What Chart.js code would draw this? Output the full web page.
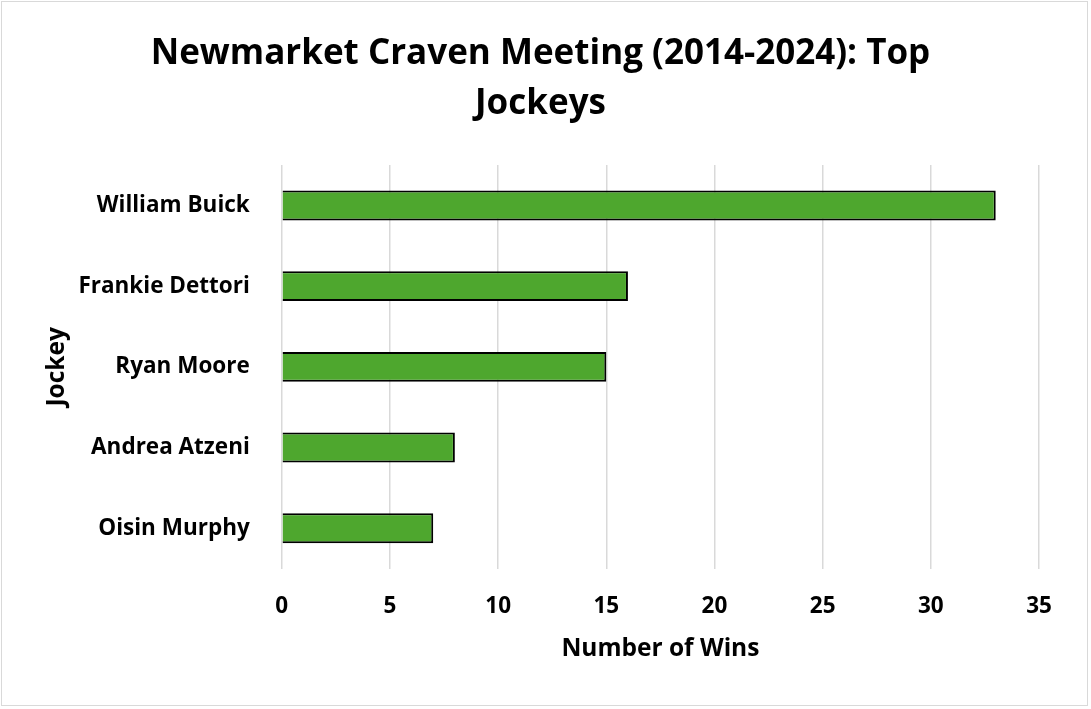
<!DOCTYPE html>
<html><head><meta charset="utf-8">
<script src="https://cdn.jsdelivr.net/npm/chart.js@4/dist/chart.umd.min.js"></script>
<style>
html,body{margin:0;padding:0;background:#fff;}
#wrap{position:absolute;left:1px;top:1px;width:1087px;height:705px;border:1px solid #d9d9d9;box-sizing:border-box;}
canvas{display:block;}
</style></head><body>
<div id="wrap"><canvas id="c"></canvas></div>
<script>
const jockeys = ["William Buick","Frankie Dettori","Ryan Moore","Andrea Atzeni","Oisin Murphy"];
const wins = [33,16,15,8,7];
const xTicks = [0,5,10,15,20,25,30,35];
const titleLines = ["Newmarket Craven Meeting (2014-2024): Top","Jockeys"];
const FONT = "'Open Sans', sans-serif";
function draw(){
new Chart(document.getElementById('c'), {
  type:'bar',
  data:{labels:jockeys,datasets:[{data:wins,backgroundColor:'#4ea72e',borderColor:'#000',borderWidth:2,categoryPercentage:1,barPercentage:0.37}]},
  options:{
    indexAxis:'y',responsive:true,maintainAspectRatio:false,animation:false,
    layout:{padding:{left:40,right:48,top:22,bottom:22}},
    plugins:{legend:{display:false},tooltip:{enabled:false},
      title:{display:true,text:titleLines,color:'#000',font:{family:FONT,size:35,weight:'bold',lineHeight:1.43},padding:{top:5,bottom:36}}},
    scales:{
      x:{min:0,max:35,afterBuildTicks:s=>{s.ticks=xTicks.map(v=>({value:v}));},
        grid:{color:'#d9d9d9',lineWidth:1.5,drawTicks:false},border:{display:false},
        ticks:{color:'#000',font:{family:FONT,size:22.5,weight:'bold'},padding:24},
        title:{display:true,text:'Number of Wins',color:'#000',font:{family:FONT,size:24.5,weight:'bold'},padding:{top:-9,bottom:19}}},
      y:{grid:{display:false,drawTicks:false},border:{display:false},
        ticks:{color:'#000',font:{family:FONT,size:22.5,weight:'bold'},padding:32},
        title:{display:true,text:'Jockey',color:'#000',font:{family:FONT,size:24.5,weight:'bold'},padding:{top:0,bottom:-25}}}
    }
  }
});
}
Promise.all([document.fonts.load("bold 22.5px 'Open Sans'"),document.fonts.load("bold 35px 'Open Sans'")]).then(draw,draw);
</script></body></html>
